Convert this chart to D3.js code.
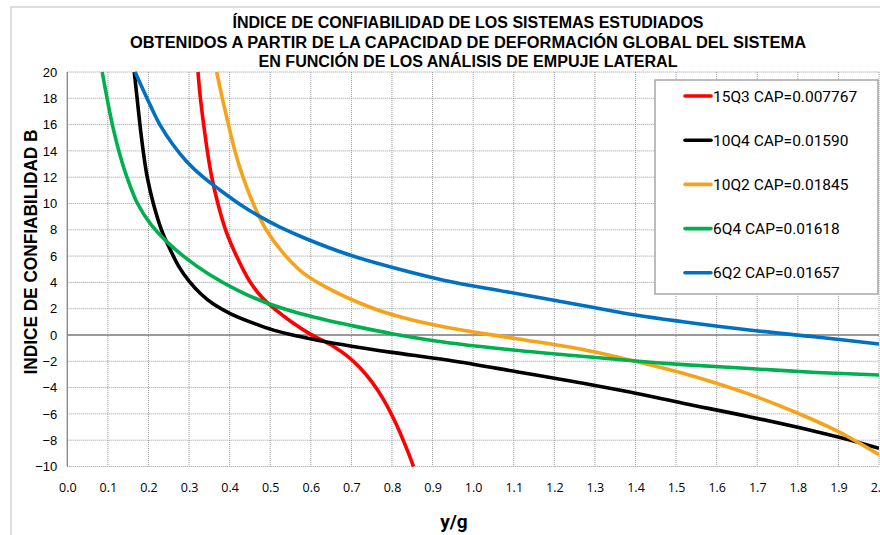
<!DOCTYPE html>
<html>
<head>
<meta charset="utf-8">
<script src="https://cdn.jsdelivr.net/npm/d3@7"></script>
<style>
  html, body { margin: 0; padding: 0; background: #fff; }
  svg { display: block; }
</style>
</head>
<body>
<svg id="chart" width="880" height="535"></svg>
<script>
// Title lines and axis labels
const titleLines = [
  "ÍNDICE DE CONFIABILIDAD  DE LOS SISTEMAS  ESTUDIADOS",
  "OBTENIDOS  A PARTIR DE  LA CAPACIDAD DE DEFORMACIÓN  GLOBAL DEL SISTEMA",
  "EN FUNCIÓN  DE LOS ANÁLISIS DE EMPUJE  LATERAL"
];
const titleWidths = [471, 676, 419];
const xTitle = "y/g";
const yTitle = "INDICE DE CONFIABILIDAD  B";

// Axis ticks
const xTicks = d3.range(0, 21).map(i => i / 10);
const yTicks = d3.range(-10, 21, 2);

// Series names and colours
const seriesNames = ["15Q3 CAP=0.007767", "10Q4 CAP=0.01590", "10Q2 CAP=0.01845", "6Q4 CAP=0.01618", "6Q2 CAP=0.01657"];
const seriesColors = ["#ff0000", "#000000", "#f5a31a", "#00b050", "#0070c0"];

// Reliability index B versus y/g for each system, as [y/g, B]
const s15Q3 = [[0.322,20],[0.328,18],[0.336,16],[0.345,14],[0.356,12],[0.371,10],[0.39,8],[0.417,6],
  [0.449,4.1],[0.48,2.85],[0.51,2.0],[0.55,1.05],[0.60,0.05],[0.655,-0.85],[0.69,-1.6],[0.72,-2.45],
  [0.75,-3.55],[0.78,-4.95],[0.81,-6.75],[0.835,-8.55],[0.853,-10]];
const s10Q4 = [[0.165,20],[0.172,18],[0.179,16],[0.187,14],[0.197,12],[0.212,10],[0.232,8],[0.252,6.6],
  [0.275,5.2],[0.30,4.1],[0.33,3.1],[0.36,2.35],[0.40,1.65],[0.45,1.0],[0.51,0.35],[0.57,-0.1],
  [0.62,-0.42],[0.70,-0.85],[0.80,-1.32],[0.94,-1.92],[1.107,-2.79],[1.271,-3.67],[1.40,-4.43],
  [1.517,-5.19],[1.68,-6.21],[1.846,-7.35],[1.928,-7.98],[2.0,-8.62]];
const s10Q2 = [[0.368,20],[0.382,18],[0.397,16],[0.413,14],[0.433,12],[0.458,10],[0.49,8],[0.53,6.3],
  [0.58,4.75],[0.64,3.6],[0.70,2.7],[0.77,1.85],[0.85,1.15],[0.95,0.5],[1.107,-0.28],[1.26,-1.05],
  [1.40,-2.0],[1.517,-2.91],[1.68,-4.5],[1.80,-5.95],[1.90,-7.35],[2.0,-9.1]];
const s6Q4 = [[0.086,20],[0.098,18],[0.111,16],[0.127,14],[0.147,12],[0.173,10],[0.205,8.45],[0.245,7.1],
  [0.29,5.9],[0.35,4.6],[0.42,3.4],[0.49,2.45],[0.56,1.75],[0.63,1.2],[0.70,0.72],[0.80,0.1],
  [0.93,-0.55],[1.07,-1.05],[1.26,-1.6],[1.40,-1.98],[1.517,-2.25],[1.68,-2.55],[1.846,-2.85],[2.0,-3.04]];
const s6Q2 = [[0.167,20],[0.204,17.5],[0.228,16],[0.261,14.45],[0.294,13.2],[0.335,12],[0.376,11.03],
  [0.425,9.95],[0.475,9.0],[0.524,8.2],[0.59,7.3],[0.696,6.08],[0.795,5.19],[0.93,4.15],[1.082,3.29],
  [1.26,2.3],[1.40,1.52],[1.517,1.01],[1.68,0.38],[1.846,-0.15],[2.0,-0.68]];
const seriesData = [s15Q3, s10Q4, s10Q2, s6Q4, s6Q2];

const svg = d3.select("#chart");
const plot = { left: 67.3, right: 879, top: 72, bottom: 466.5 };

const x = d3.scaleLinear().domain([0, 2]).range([plot.left, plot.right]);
const y = d3.scaleLinear().domain([-10, 20]).range([plot.bottom, plot.top]);

// Outer chart frame
svg.append("rect")
  .attr("x", 11).attr("y", 7).attr("width", 900).attr("height", 600)
  .attr("fill", "#fff").attr("stroke", "#c8c8c8").attr("stroke-width", 1.2);

// Title (condensed bold lines)
svg.append("g")
  .selectAll("text").data(titleLines).join("text")
  .attr("x", 468).attr("y", (d, i) => 28 + i * 19.5)
  .attr("text-anchor", "middle")
  .attr("font-family", '"Liberation Sans", Arial, sans-serif')
  .attr("font-weight", "bold").attr("font-size", 16).attr("fill", "#000")
  .attr("textLength", (d, i) => titleWidths[i])
  .attr("lengthAdjust", "spacingAndGlyphs")
  .text(d => d);

// Grid
const grid = svg.append("g");
grid.selectAll("line.v").data(xTicks).join("line")
  .attr("x1", d => x(d)).attr("x2", d => x(d))
  .attr("y1", plot.top).attr("y2", plot.bottom)
  .attr("stroke", "#9a9a9a").attr("stroke-width", 1).attr("stroke-dasharray", "1,1");
grid.selectAll("line.h").data(yTicks).join("line")
  .attr("x1", plot.left).attr("x2", plot.right)
  .attr("y1", d => y(d)).attr("y2", d => y(d))
  .attr("stroke", "#9a9a9a").attr("stroke-width", 1).attr("stroke-dasharray", "1,1");

// Zero line and left axis
svg.append("line")
  .attr("x1", plot.left).attr("x2", plot.right).attr("y1", y(0)).attr("y2", y(0))
  .attr("stroke", "#808080").attr("stroke-width", 1.5);
svg.append("line")
  .attr("x1", plot.left).attr("x2", plot.left).attr("y1", plot.top).attr("y2", plot.bottom)
  .attr("stroke", "#808080").attr("stroke-width", 1.2);

// Y axis tick labels
const yAxis = d3.axisLeft(y).tickValues(yTicks).tickSize(0).tickPadding(10).tickFormat(d3.format("d"));
const gy = svg.append("g").attr("transform", `translate(${plot.left},0)`).call(yAxis);
gy.select(".domain").remove();
gy.selectAll("text").attr("font-size", 13).attr("fill", "#000")
  .style("font-family", '"Liberation Sans", Arial, sans-serif');

// X axis tick labels
const xAxis = d3.axisBottom(x).tickValues(xTicks).tickSize(0).tickPadding(17).tickFormat(d3.format(".1f"));
const gx = svg.append("g").attr("transform", `translate(0,${plot.bottom})`).call(xAxis);
gx.select(".domain").remove();
gx.selectAll("text").attr("font-size", 12.5).attr("fill", "#000")
  .style("font-family", '"Open Sans", sans-serif');

// Axis titles
svg.append("text")
  .attr("x", 454).attr("y", 528).attr("text-anchor", "middle")
  .attr("font-family", "Roboto, sans-serif").attr("font-weight", "bold").attr("font-size", 19)
  .text(xTitle);
svg.append("text")
  .attr("transform", "translate(37,252) rotate(-90)")
  .attr("text-anchor", "middle")
  .attr("font-family", '"Liberation Sans", Arial, sans-serif')
  .attr("font-weight", "bold").attr("font-size", 18)
  .attr("textLength", 245).attr("lengthAdjust", "spacingAndGlyphs")
  .text(yTitle);

// Curves
svg.append("clipPath").attr("id", "plot-clip")
  .append("rect").attr("x", plot.left).attr("y", plot.top - 1)
  .attr("width", plot.right - plot.left).attr("height", plot.bottom - plot.top + 2);

const line = d3.line().x(d => x(d[0])).y(d => y(d[1])).curve(d3.curveCatmullRom.alpha(0.5));
svg.append("g").attr("clip-path", "url(#plot-clip)")
  .selectAll("path").data(seriesData).join("path")
  .attr("d", line)
  .attr("fill", "none")
  .attr("stroke", (d, i) => seriesColors[i])
  .attr("stroke-width", 3.6)
  .attr("stroke-linejoin", "round");

// Legend
const legend = svg.append("g");
legend.append("rect")
  .attr("x", 655).attr("y", 80).attr("width", 223).attr("height", 214)
  .attr("fill", "#fff").attr("stroke", "#a6a6a6").attr("stroke-width", 1.5);
const items = legend.selectAll("g.item").data(seriesNames).join("g")
  .attr("transform", (d, i) => `translate(0,${96 + i * 44.2})`);
items.append("line")
  .attr("x1", 685).attr("x2", 711).attr("y1", 0).attr("y2", 0)
  .attr("stroke", (d, i) => seriesColors[i]).attr("stroke-width", 3.6).attr("stroke-linecap", "round");
items.append("text")
  .attr("x", 713).attr("y", 5.5)
  .attr("font-family", "Roboto, sans-serif").attr("font-size", 15.5).attr("fill", "#000")
  .text(d => d);
</script>
</body>
</html>
